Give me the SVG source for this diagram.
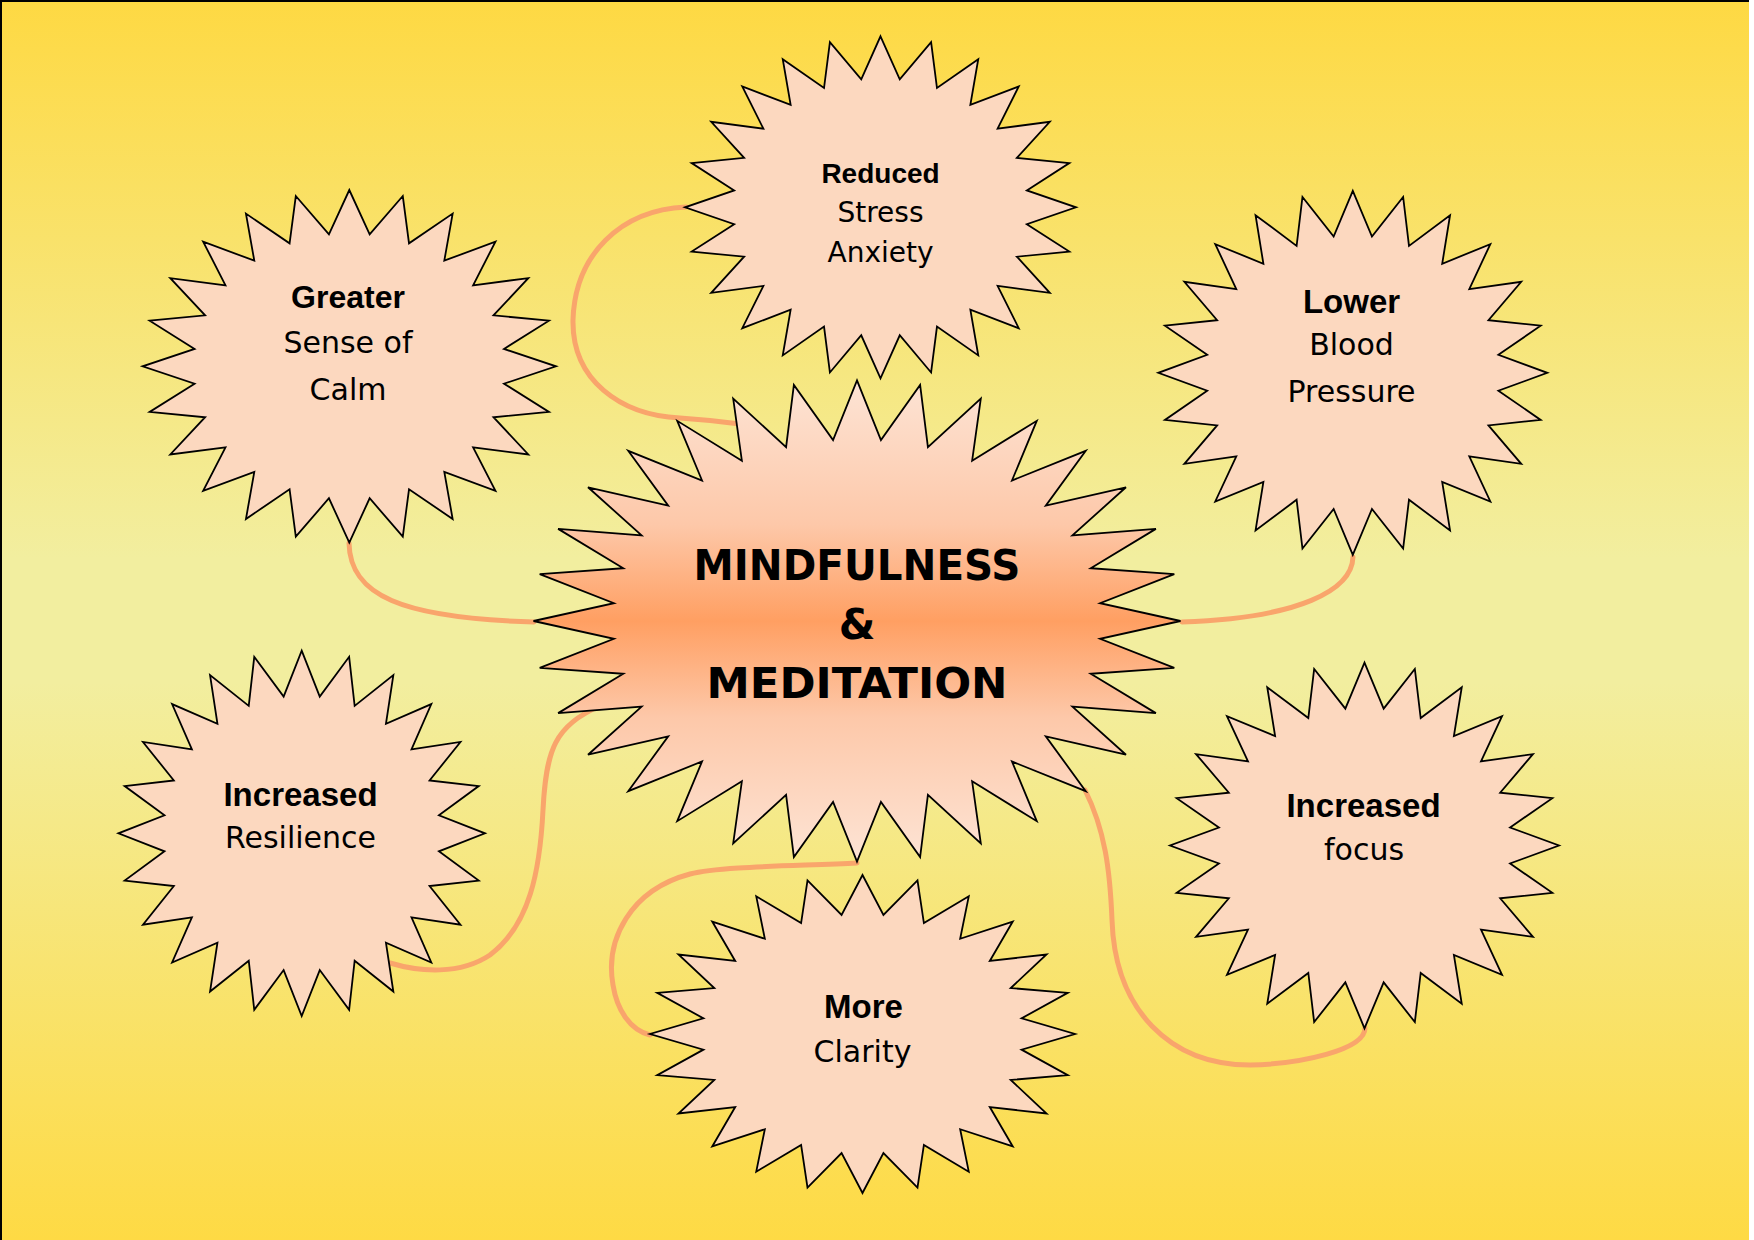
<svg xmlns="http://www.w3.org/2000/svg" xmlns:xlink="http://www.w3.org/1999/xlink" width="1754" height="1240" viewBox="0 0 1754 1240">
  <defs>
    <linearGradient id="bg" x1="0" y1="0" x2="0" y2="1">
      <stop offset="0" stop-color="#FED943"/>
      <stop offset="0.45" stop-color="#F2EE9F"/>
      <stop offset="0.55" stop-color="#F2EE9F"/>
      <stop offset="1" stop-color="#FEDA44"/>
    </linearGradient>
    <linearGradient id="core" x1="0" y1="0" x2="0" y2="1">
      <stop offset="0" stop-color="#FDE4D5"/>
      <stop offset="0.3" stop-color="#FDC8A9"/>
      <stop offset="0.5" stop-color="#FF9F62"/>
      <stop offset="0.7" stop-color="#FDC8A9"/>
      <stop offset="1" stop-color="#FDE4D5"/>
    </linearGradient>
    <polygon id="star24" vector-effect="non-scaling-stroke" points="0,-1000 98.5,-748.5 258.8,-965.9 288.9,-697.5 500,-866 459.6,-599 707.1,-707.1 599,-459.6 866,-500 697.5,-288.9 965.9,-258.8 748.5,-98.5 1000,0 748.5,98.5 965.9,258.8 697.5,288.9 866,500 599,459.6 707.1,707.1 459.6,599 500,866 288.9,697.5 258.8,965.9 98.5,748.5 0,1000 -98.5,748.5 -258.8,965.9 -288.9,697.5 -500,866 -459.6,599 -707.1,707.1 -599,459.6 -866,500 -697.5,288.9 -965.9,258.8 -748.5,98.5 -1000,0 -748.5,-98.5 -965.9,-258.8 -697.5,-288.9 -866,-500 -599,-459.6 -707.1,-707.1 -459.6,-599 -500,-866 -288.9,-697.5 -258.8,-965.9 -98.5,-748.5"/>
    <polygon id="star32" vector-effect="non-scaling-stroke" points="0,-1000 74,-751.4 195.1,-980.8 219.2,-722.5 382.7,-923.9 355.9,-665.9 555.6,-831.5 479,-583.6 707.1,-707.1 583.6,-479 831.5,-555.6 665.9,-355.9 923.9,-382.7 722.5,-219.2 980.8,-195.1 751.4,-74 1000,0 751.4,74 980.8,195.1 722.5,219.2 923.9,382.7 665.9,355.9 831.5,555.6 583.6,479 707.1,707.1 479,583.6 555.6,831.5 355.9,665.9 382.7,923.9 219.2,722.5 195.1,980.8 74,751.4 0,1000 -74,751.4 -195.1,980.8 -219.2,722.5 -382.7,923.9 -355.9,665.9 -555.6,831.5 -479,583.6 -707.1,707.1 -583.6,479 -831.5,555.6 -665.9,355.9 -923.9,382.7 -722.5,219.2 -980.8,195.1 -751.4,74 -1000,0 -751.4,-74 -980.8,-195.1 -722.5,-219.2 -923.9,-382.7 -665.9,-355.9 -831.5,-555.6 -583.6,-479 -707.1,-707.1 -479,-583.6 -555.6,-831.5 -355.9,-665.9 -382.7,-923.9 -219.2,-722.5 -195.1,-980.8 -74,-751.4"/>
  </defs>
  <style>
    .sat { fill: #FCD8BF; stroke: #000; stroke-width: 1.8; stroke-linejoin: miter; }
    .core { fill: url(#core); stroke: #000; stroke-width: 1.8; }
    .conn { fill: none; stroke: #F9A56C; stroke-width: 5; stroke-linecap: round; }
    .b { font-family: "Liberation Sans", Arial, sans-serif; font-weight: bold; font-size: 33px; fill: #000; text-anchor: middle; }
    .r { font-family: "DejaVu Sans", "Noto Sans", sans-serif; font-size: 30px; fill: #000; text-anchor: middle; }
    .c { font-family: "DejaVu Sans", "Noto Sans", sans-serif; font-weight: bold; font-size: 42px; fill: #000; text-anchor: middle; }
  </style>

  <rect x="0" y="0" width="1754" height="1240" fill="#FFFFFF"/>
  <rect x="0" y="0" width="1749" height="1240" fill="url(#bg)"/>
  <path d="M1,1240 V1 H1749" fill="none" stroke="#000" stroke-width="2"/>

  <g id="connectors">
    <path class="conn" d="M349,543 C350,595 400,618 534,622"/>
    <path class="conn" d="M1353,557 C1352,590 1300,618 1182,622"/>
    <path class="conn" d="M686,207 C620,210 575,255 573,320 C572,380 620,415 680,418 C710,420 725,422 740,424"/>
    <path class="conn" d="M390,963 C420,972 460,975 490,955 C530,925 540,870 543,810 C546,750 555,725 600,706"/>
    <path class="conn" d="M1085,790 C1105,830 1110,870 1112,920 C1115,1010 1170,1065 1250,1065 C1300,1064 1365,1050 1365,1028"/>
    <path class="conn" d="M857,863 C800,866 720,866 690,874 C630,890 605,940 613,985 C617,1010 630,1030 650,1035"/>
  </g>

  <g id="node-reduced">
    <use xlink:href="#star24" class="sat" transform="translate(880.5,207.3) scale(0.1955,0.171)"/>
    <text class="b" x="880.5" y="183" style="font-size:28px">Reduced</text>
    <text class="r" x="880.5" y="222" style="font-size:28px">Stress</text>
    <text class="r" x="880.5" y="262" style="font-size:28px">Anxiety</text>
  </g>

  <g id="node-calm">
    <use xlink:href="#star24" class="sat" transform="translate(349.3,366.3) scale(0.2067,0.1763)"/>
    <text class="b" x="348" y="308" style="font-size:32px">Greater</text>
    <text class="r" x="348" y="353">Sense of</text>
    <text class="r" x="348" y="400">Calm</text>
  </g>

  <g id="node-blood">
    <use xlink:href="#star24" class="sat" transform="translate(1352.8,372.8) scale(0.1945,0.182)"/>
    <text class="b" x="1351.5" y="313">Lower</text>
    <text class="r" x="1351.5" y="355">Blood</text>
    <text class="r" x="1351.5" y="402">Pressure</text>
  </g>

  <g id="node-resilience">
    <use xlink:href="#star24" class="sat" transform="translate(301.7,833.3) scale(0.1833,0.1827)"/>
    <text class="b" x="300.5" y="806">Increased</text>
    <text class="r" x="300.5" y="848">Resilience</text>
  </g>

  <g id="node-focus">
    <use xlink:href="#star24" class="sat" transform="translate(1364.5,845.5) scale(0.1945,0.1828)"/>
    <text class="b" x="1363.5" y="817">Increased</text>
    <text class="r" x="1364" y="860">focus</text>
  </g>

  <g id="node-clarity">
    <use xlink:href="#star24" class="sat" transform="translate(862.5,1034) scale(0.2125,0.159)"/>
    <text class="b" x="863.5" y="1018">More</text>
    <text class="r" x="862.5" y="1062">Clarity</text>
  </g>

  <g id="node-core">
    <use xlink:href="#star32" class="core" transform="translate(857,621) scale(0.3235,0.2407)"/>
    <text class="c" x="857" y="580" textLength="327" lengthAdjust="spacingAndGlyphs">MINDFULNESS</text>
    <text class="c" x="857" y="639">&amp;</text>
    <text class="c" x="857" y="698" textLength="301" lengthAdjust="spacingAndGlyphs">MEDITATION</text>
  </g>
</svg>
